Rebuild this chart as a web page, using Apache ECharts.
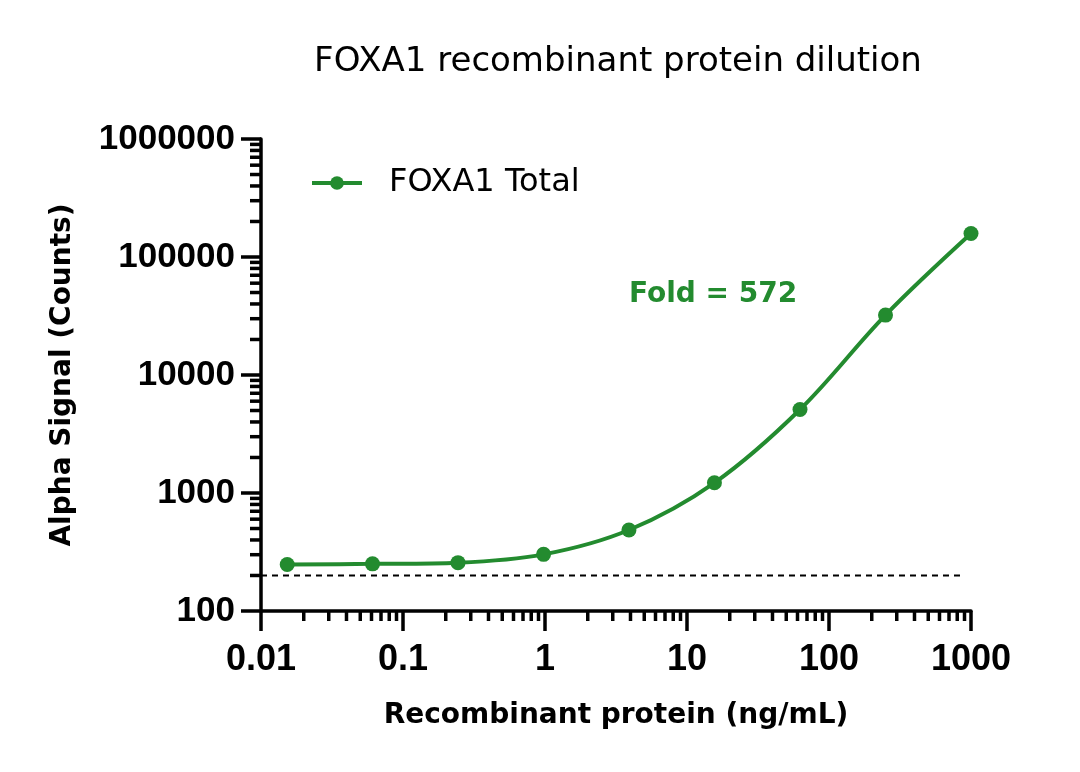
<!DOCTYPE html>
<html>
<head>
<meta charset="utf-8">
<script src="https://cdn.jsdelivr.net/npm/echarts@6/dist/echarts.min.js"></script>
<style>
  html, body { margin: 0; padding: 0; background: #fff; }
  #main { width: 1080px; height: 772px; }
</style>
</head>
<body>
<div id="main"></div>
<script type="text/javascript">
    // data (4-fold dilution series)
    var conc = [0.0153, 0.061, 0.244, 0.977, 3.9, 15.6, 62.5, 250, 1000];
    var signal = [248, 251, 257, 302, 486, 1220, 5100, 32200, 158000];
    var baselineY = 200;
    var baselineX = [0.01, 880];
    var xDecades = [0.01, 0.1, 1, 10, 100];
    var yDecades = [100, 1000, 10000, 100000];
    var green = '#238B2F';

    var myChart = echarts.init(document.getElementById('main'));

    // minor log ticks (2..9 in every decade)
    var xMinor = [], yMinor = [];
    xDecades.forEach(function (d) {
        for (var m = 2; m <= 9; m++) xMinor.push([d * m, 100]);
    });
    yDecades.forEach(function (d) {
        for (var m = 2; m <= 9; m++) yMinor.push([0.01, d * m]);
    });

    function tickItem(dir) {
        return function (params, api) {
            var p = api.coord([api.value(0), api.value(1)]);
            var x2 = dir === 'x' ? p[0] : p[0] - 11;
            var y2 = dir === 'x' ? p[1] + 10 : p[1];
            return {
                type: 'line',
                shape: { x1: p[0], y1: p[1], x2: x2, y2: y2 },
                style: { stroke: '#000', lineWidth: 3.5 }
            };
        };
    }

    var option = {
        animation: false,
        title: {
            text: 'FOXA1 recombinant protein dilution',
            left: 613,
            textAlign: 'center',
            top: 40,
            textStyle: { fontFamily: 'DejaVu Sans', fontWeight: 'normal', fontSize: 34, color: '#000' }
        },
        legend: {
            left: 305,
            top: 162,
            itemWidth: 50,
            itemHeight: 17,
            data: ['FOXA1 Total'],
            lineStyle: { width: 4 },
            textStyle: { fontFamily: 'DejaVu Sans', fontSize: 32, color: '#000', padding: [0, 0, 0, 22] }
        },
        grid: { left: 261, right: 109, top: 139, bottom: 161 },
        xAxis: {
            type: 'log',
            logBase: 10,
            min: 0.01,
            max: 1000,
            name: 'Recombinant protein (ng/mL)',
            nameLocation: 'middle',
            nameGap: 91,
            nameTextStyle: { fontFamily: 'DejaVu Sans', fontWeight: 'bold', fontSize: 28, color: '#000' },
            axisLine: { lineStyle: { color: '#000', width: 3.5 } },
            axisTick: { inside: false, length: 20, lineStyle: { color: '#000', width: 3.5 } },
            axisLabel: {
                margin: 31,
                fontFamily: 'Liberation Sans',
                fontWeight: 'bold',
                fontSize: 36,
                color: '#000',
                formatter: function (v) { return String(+v.toPrecision(6)); }
            },
            splitLine: { show: false }
        },
        yAxis: {
            type: 'log',
            logBase: 10,
            min: 100,
            max: 1000000,
            name: 'Alpha Signal (Counts)',
            nameLocation: 'middle',
            nameGap: 184,
            nameTextStyle: { fontFamily: 'DejaVu Sans', fontWeight: 'bold', fontSize: 28, color: '#000' },
            axisLine: { show: true, lineStyle: { color: '#000', width: 3.5 } },
            axisTick: { inside: false, length: 20, lineStyle: { color: '#000', width: 3.5 } },
            axisLabel: {
                margin: 26,
                fontFamily: 'Liberation Sans',
                fontWeight: 'bold',
                fontSize: 35,
                color: '#000',
                formatter: function (v) { return String(Math.round(v)); }
            },
            splitLine: { show: false }
        },
        graphic: [{
            type: 'text',
            left: 629,
            top: 281,
            style: { text: 'Fold = 572', fill: green, font: 'bold 28px "DejaVu Sans"' }
        }],
        series: [
            {
                name: 'baseline',
                type: 'line',
                silent: true,
                symbol: 'none',
                data: [[baselineX[0], baselineY], [baselineX[1], baselineY]],
                lineStyle: { color: '#000', width: 2, type: [6, 5] },
                z: 1
            },
            {
                name: 'FOXA1 Total',
                type: 'line',
                smooth: 0.35,
                symbol: 'circle',
                symbolSize: 15,
                data: conc.map(function (c, i) { return [c, signal[i]]; }),
                itemStyle: { color: green },
                lineStyle: { color: green, width: 4 },
                z: 3
            },
            {
                type: 'custom',
                silent: true,
                clip: false,
                renderItem: tickItem('x'),
                data: xMinor
            },
            {
                type: 'custom',
                silent: true,
                clip: false,
                renderItem: tickItem('y'),
                data: yMinor
            }
        ]
    };

    myChart.setOption(option);
</script>
</body>
</html>
